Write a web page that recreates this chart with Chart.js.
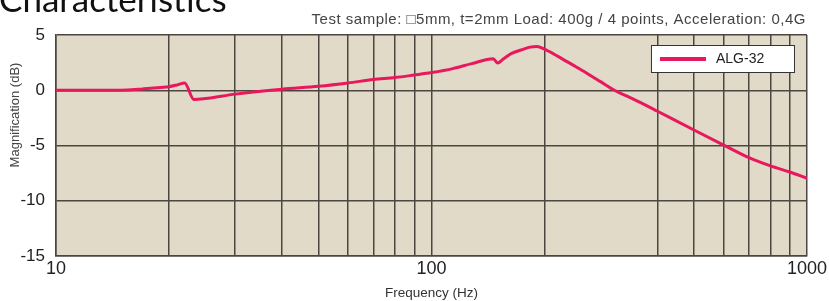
<!DOCTYPE html>
<html>
<head>
<meta charset="utf-8">
<script src="https://cdn.jsdelivr.net/npm/chart.js@4/dist/chart.umd.min.js"></script>
<style>
  html, body { margin: 0; padding: 0; background: #fff; }
  #wrap { width: 829px; height: 301px; position: relative; }
</style>
</head>
<body>
<div id="wrap"><canvas id="chart"></canvas></div>
<script>
// values
const freqs = [10, 12, 14, 15.5, 17, 19, 20, 21, 22, 23.3, 25, 30, 40, 50, 60, 70, 80, 90, 100,
  114, 128, 146, 150, 155, 163, 176, 183, 191, 200, 217, 237, 258, 282, 307, 335, 366, 400, 500, 600, 700, 800, 900, 1000];
const magnification = [0, 0, 0, 0.02, 0.12, 0.25, 0.32, 0.48, 0.66, -0.84, -0.75, -0.35, 0.1, 0.36, 0.66, 0.97, 1.15, 1.38, 1.6,
  1.96, 2.41, 2.86, 2.47, 2.8, 3.31, 3.72, 3.9, 3.97, 3.72, 3.07, 2.32, 1.59, 0.78, 0.0, -0.6, -1.23, -1.9, -3.6, -4.97, -6.1, -6.85, -7.4, -7.97];

// vertical grid lines of the original (no line at 300)
const gridFreqs = [10, 20, 30, 40, 50, 60, 70, 80, 90, 100, 200, 400, 500, 600, 700, 800, 900, 1000];
const labeledFreqs = [10, 100, 1000];

const seriesName = 'ALG-32';
const lineColor = '#e8185c';
const gridColor = '#4d4640';

// tan plot background + texts outside the axes + boxed legend
const decor = {
  id: 'decor',
  beforeDraw(chart) {
    const { ctx, chartArea: a } = chart;
    ctx.save();
    ctx.fillStyle = '#e1dac8';
    ctx.fillRect(a.left, a.top, a.right - a.left, a.bottom - a.top);
    ctx.restore();
  },
  afterDraw(chart) {
    const { ctx, chartArea: a } = chart;
    ctx.save();
    // cut-off heading
    ctx.fillStyle = '#111';
    ctx.font = '35px Lato';
    ctx.textAlign = 'left';
    ctx.textBaseline = 'alphabetic';
    ctx.fillText('Characteristics', -1, 12);

    // test conditions
    ctx.fillStyle = '#444';
    ctx.font = '15px "Liberation Sans"';
    ctx.letterSpacing = '0.5px';
    ctx.textAlign = 'right';
    ctx.fillText('Test sample: \u25A15mm, t=2mm Load: 400g / 4 points, Acceleration: 0,4G', a.right - 1, 24);
    ctx.letterSpacing = '0px';

    // y title (sits above the middle in the original)
    ctx.translate(15, a.top + 80);
    ctx.rotate(-Math.PI / 2);
    ctx.textAlign = 'center';
    ctx.textBaseline = 'middle';
    ctx.font = '13px "Liberation Sans"';
    ctx.fillStyle = '#444';
    ctx.fillText('Magnification (dB)', 0, 0);
    ctx.setTransform(1, 0, 0, 1, 0, 0);

    // legend box
    const ds = chart.data.datasets[0];
    const bx = a.right - 156, by = a.top + 10, bw = 143, bh = 27;
    ctx.fillStyle = '#fff';
    ctx.fillRect(bx, by, bw, bh);
    ctx.strokeStyle = '#333';
    ctx.lineWidth = 1;
    ctx.strokeRect(bx + 0.5, by + 0.5, bw, bh);
    ctx.strokeStyle = ds.borderColor;
    ctx.lineWidth = 4;
    ctx.beginPath();
    ctx.moveTo(bx + 9, by + 14);
    ctx.lineTo(bx + 55, by + 14);
    ctx.stroke();
    ctx.fillStyle = '#222';
    ctx.font = '14px "Liberation Sans"';
    ctx.textAlign = 'left';
    ctx.textBaseline = 'middle';
    ctx.fillText(ds.label, bx + 65, by + 14);
    ctx.restore();
  }
};

new Chart(document.getElementById('chart'), {
  type: 'line',
  data: {
    datasets: [{
      label: seriesName,
      data: freqs.map((f, i) => ({ x: f, y: magnification[i] })),
      borderColor: lineColor,
      borderWidth: 3,
      pointRadius: 0,
      cubicInterpolationMode: 'monotone',
      fill: false
    }]
  },
  options: {
    responsive: true,
    maintainAspectRatio: false,
    animation: false,
    layout: { padding: { top: 35, right: 22, left: 0, bottom: 0 } },
    plugins: { legend: { display: false }, tooltip: { enabled: false } },
    scales: {
      x: {
        type: 'logarithmic',
        min: 10,
        max: 1000,
        afterBuildTicks: (scale) => { scale.ticks = gridFreqs.map(v => ({ value: v })); },
        afterFit: (scale) => { scale.height = 45; },
        grid: { color: gridColor, lineWidth: 1.5, drawTicks: false },
        border: { color: gridColor, width: 1.5 },
        ticks: {
          autoSkip: false,
          maxRotation: 0,
          padding: 2,
          color: '#222',
          font: { family: 'Liberation Sans', size: 18 },
          callback: (v) => labeledFreqs.includes(v) ? String(v) : ''
        },
        title: {
          display: true,
          text: 'Frequency (Hz)',
          color: '#333',
          font: { family: 'Liberation Sans', size: 13.5 },
          padding: { top: 0, bottom: 0 }
        }
      },
      y: {
        min: -15,
        max: 5,
        afterFit: (scale) => { scale.width = 56; },
        grid: { color: gridColor, lineWidth: 1.5, drawTicks: false },
        border: { color: gridColor, width: 1.5 },
        ticks: {
          stepSize: 5,
          padding: 11,
          color: '#222',
          font: { family: 'Liberation Sans', size: 17 }
        }
      }
    }
  },
  plugins: [decor]
});
</script>
</body>
</html>
